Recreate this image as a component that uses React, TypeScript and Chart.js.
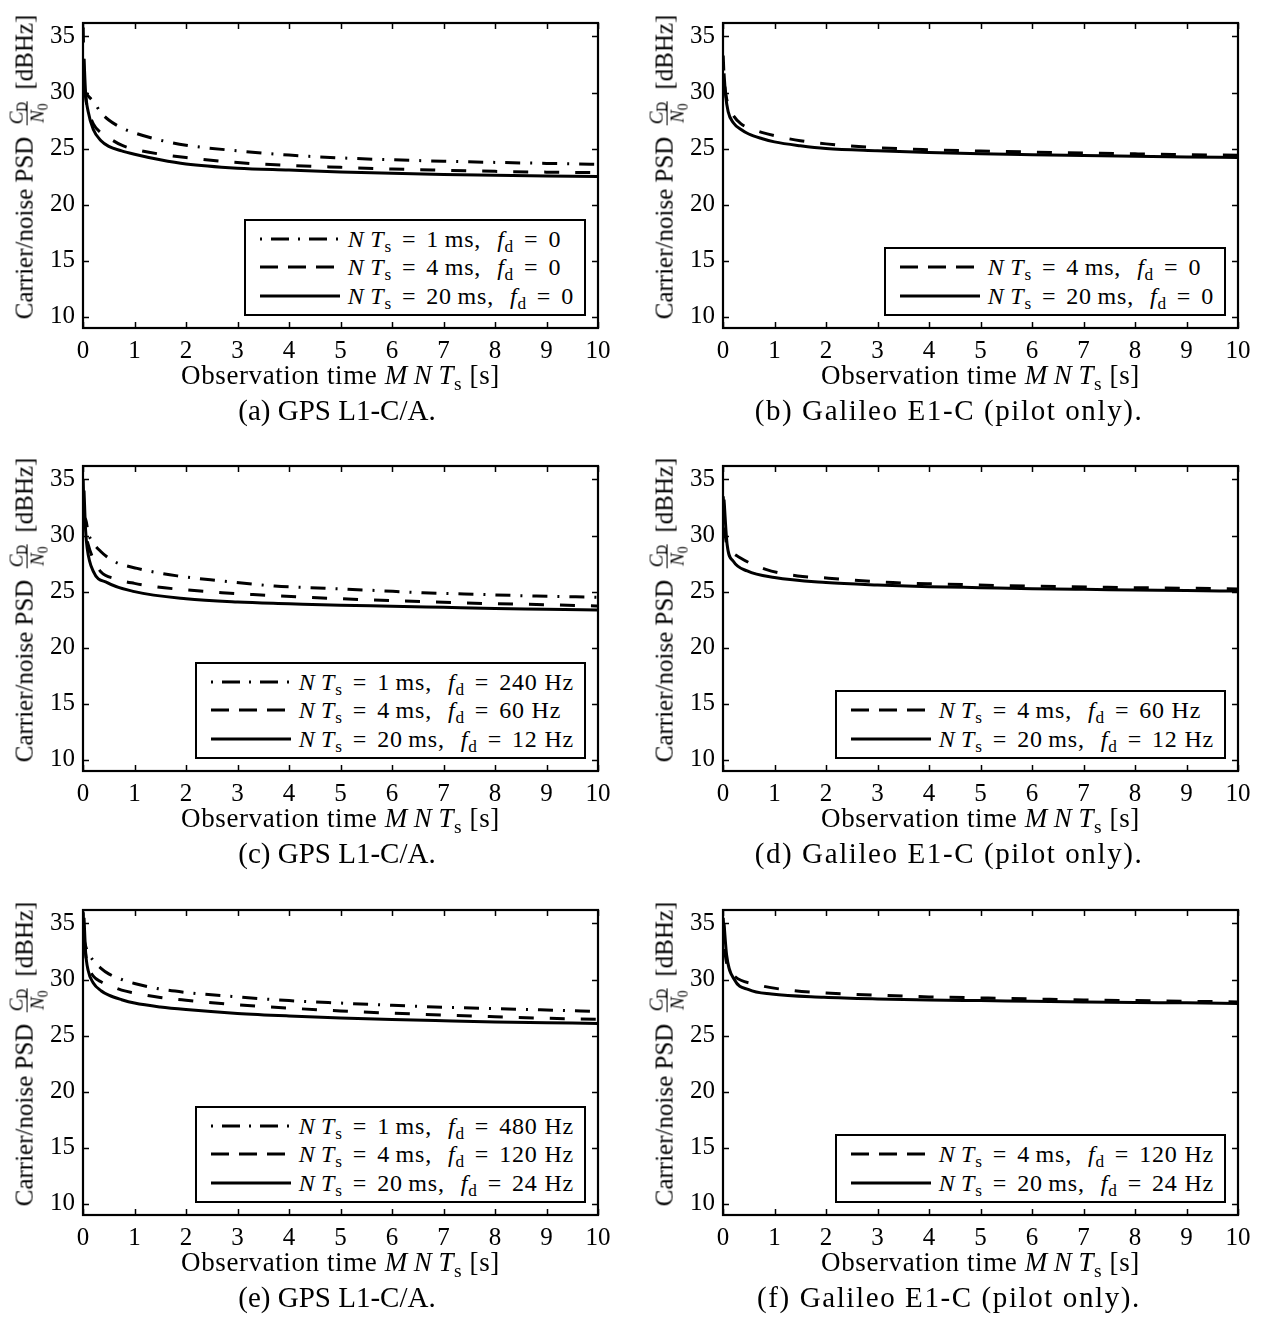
import React, { useEffect, useRef } from "react";
import { Chart, registerables } from "chart.js";

Chart.register(...registerables);

const FONT = "'Liberation Serif', 'DejaVu Serif', serif";

// Axis ticks / limits
const X_TICKS = [0, 1, 2, 3, 4, 5, 6, 7, 8, 9, 10];
const Y_TICKS = [10, 15, 20, 25, 30, 35];
const X_MIN = 0;
const X_MAX = 10;
const Y_MIN = 9;
const Y_MAX = 36.2;

// ---- (a) GPS L1-C/A, fd = 0 ----
const aX1 = [0.001, 0.05, 0.1, 0.2, 0.35, 0.5, 0.75, 1, 1.5, 2, 3, 4, 5, 6, 7, 8, 9, 10];
const aY1 = [30.5, 30.0, 29.7, 29.2, 28.2, 27.55, 26.85, 26.4, 25.75, 25.3, 24.8, 24.42, 24.17, 24.0, 23.87, 23.77, 23.68, 23.6];
const aX4 = [0.004, 0.02, 0.05, 0.1, 0.2, 0.35, 0.5, 0.75, 1, 1.5, 2, 3, 4, 5, 6, 7, 8, 9, 10];
const aY4 = [35.8, 31.5, 29.6, 28.5, 27.2, 26.4, 25.95, 25.3, 24.95, 24.5, 24.2, 23.75, 23.5, 23.33, 23.18, 23.07, 22.97, 22.9, 22.85];
const aX20 = [0.02, 0.05, 0.1, 0.2, 0.35, 0.5, 0.75, 1, 1.5, 2, 3, 4, 5, 6, 7, 8, 9, 10];
const aY20 = [33.0, 30.0, 28.3, 26.7, 25.7, 25.2, 24.8, 24.5, 24.0, 23.62, 23.25, 23.08, 22.92, 22.8, 22.7, 22.62, 22.56, 22.5];

// ---- (b) Galileo E1-C, fd = 0 ----
const bX4 = [0.004, 0.02, 0.05, 0.1, 0.2, 0.35, 0.5, 0.75, 1, 1.5, 2, 3, 4, 5, 6, 7, 8, 9, 10];
const bY4 = [33.3, 31.5, 30.0, 28.9, 27.95, 27.2, 26.85, 26.45, 26.15, 25.7, 25.42, 25.08, 24.9, 24.78, 24.69, 24.61, 24.53, 24.46, 24.4];
const bX20 = [0.02, 0.05, 0.1, 0.2, 0.35, 0.5, 0.75, 1, 1.5, 2, 3, 4, 5, 6, 7, 8, 9, 10];
const bY20 = [31.7, 29.8, 28.3, 27.3, 26.7, 26.3, 25.9, 25.6, 25.25, 25.0, 24.8, 24.65, 24.53, 24.45, 24.38, 24.31, 24.25, 24.2];

// ---- (c) GPS L1-C/A, moderate Doppler ----
const cX1 = [0.001, 0.05, 0.1, 0.14, 0.34, 0.6, 1.05, 1.83, 2.68, 3.72, 4.7, 5.67, 6.6, 7.75, 8.8, 10];
const cY1 = [31.0, 31.5, 30.2, 29.75, 28.6, 27.7, 27.07, 26.4, 25.96, 25.5, 25.3, 25.1, 24.9, 24.74, 24.6, 24.5];
const cX4 = [0.004, 0.02, 0.05, 0.1, 0.2, 0.34, 0.66, 1, 1.4, 2, 2.7, 3.3, 4.3, 5.5, 6.6, 8, 9, 10];
const cY4 = [35.0, 32.0, 30.3, 29.2, 27.9, 26.8, 26.1, 25.73, 25.44, 25.15, 24.9, 24.74, 24.5, 24.27, 24.1, 23.92, 23.83, 23.72];
const cX20 = [0.02, 0.05, 0.08, 0.2, 0.47, 1, 2, 3, 4, 5, 6, 7, 8, 9, 10];
const cY20 = [34.0, 30.5, 28.9, 26.8, 25.8, 25.0, 24.36, 24.07, 23.92, 23.78, 23.7, 23.6, 23.5, 23.43, 23.35];

// ---- (d) Galileo E1-C, moderate Doppler ----
const dX4 = [0.004, 0.05, 0.14, 0.34, 0.83, 1.45, 2.05, 2.7, 3.3, 4.3, 5.5, 6.6, 8, 9, 10];
const dY4 = [33.5, 29.8, 28.7, 28.0, 26.98, 26.4, 26.2, 25.96, 25.8, 25.67, 25.52, 25.44, 25.35, 25.3, 25.23];
const dX20 = [0.02, 0.08, 0.2, 0.47, 1, 2, 3, 4, 5, 6, 7, 8, 9, 10];
const dY20 = [33.2, 29.2, 27.7, 26.84, 26.25, 25.8, 25.58, 25.44, 25.35, 25.26, 25.2, 25.15, 25.09, 25.05];

// ---- (e) GPS L1-C/A, high Doppler ----
const eX1 = [0.001, 0.05, 0.1, 0.2, 0.35, 0.5, 0.75, 1, 1.5, 2, 3, 4, 5, 6, 7, 8, 9, 10];
const eY1 = [34.0, 33.0, 32.4, 31.7, 31.0, 30.5, 30.0, 29.65, 29.15, 28.85, 28.45, 28.12, 27.9, 27.7, 27.53, 27.4, 27.28, 27.15];
const eX4 = [0.004, 0.02, 0.05, 0.1, 0.2, 0.35, 0.5, 0.75, 1, 1.5, 2, 3, 4, 5, 6, 7, 8, 9, 10];
const eY4 = [36.0, 34.0, 32.3, 31.2, 30.3, 29.8, 29.5, 29.05, 28.8, 28.4, 28.15, 27.75, 27.45, 27.2, 27.0, 26.83, 26.68, 26.55, 26.45];
const eX20 = [0.02, 0.05, 0.1, 0.2, 0.35, 0.5, 0.75, 1, 1.5, 2, 3, 4, 5, 6, 7, 8, 9, 10];
const eY20 = [35.5, 32.5, 30.8, 29.7, 29.0, 28.6, 28.2, 27.9, 27.55, 27.32, 26.98, 26.75, 26.57, 26.43, 26.32, 26.22, 26.15, 26.08];

// ---- (f) Galileo E1-C, high Doppler ----
const fX4 = [0.004, 0.05, 0.22, 0.65, 1.38, 2, 3, 4, 5, 6, 7, 8, 9, 10];
const fY4 = [35.5, 32.0, 30.3, 29.55, 29.0, 28.8, 28.6, 28.45, 28.36, 28.27, 28.18, 28.12, 28.06, 28.0];
const fX20 = [0.02, 0.07, 0.22, 0.5, 0.94, 1.96, 3, 4, 5, 6, 7, 8, 9, 10];
const fY20 = [35.0, 32.2, 30.0, 29.1, 28.7, 28.42, 28.27, 28.18, 28.12, 28.06, 28.0, 27.95, 27.92, 27.86];

type Style = "dashdot" | "dashed" | "solid";
type Series = { xs: number[]; ys: number[]; style: Style; nts: string; fd: string };

const PLOT_DASH: Record<Style, number[]> = {
  dashdot: [15, 10, 2, 10],
  dashed: [15, 16],
  solid: [],
};
const LEGEND_DASH: Record<Style, string> = {
  dashdot: "2 9 18 9",
  dashed: "18 10",
  solid: "",
};

const PANELS: { id: string; caption: string; series: Series[] }[] = [
  {
    id: "a",
    caption: "(a) GPS L1-C/A.",
    series: [
      { xs: aX1, ys: aY1, style: "dashdot", nts: "1", fd: "0" },
      { xs: aX4, ys: aY4, style: "dashed", nts: "4", fd: "0" },
      { xs: aX20, ys: aY20, style: "solid", nts: "20", fd: "0" },
    ],
  },
  {
    id: "b",
    caption: "(b) Galileo E1-C (pilot only).",
    series: [
      { xs: bX4, ys: bY4, style: "dashed", nts: "4", fd: "0" },
      { xs: bX20, ys: bY20, style: "solid", nts: "20", fd: "0" },
    ],
  },
  {
    id: "c",
    caption: "(c) GPS L1-C/A.",
    series: [
      { xs: cX1, ys: cY1, style: "dashdot", nts: "1", fd: "240 Hz" },
      { xs: cX4, ys: cY4, style: "dashed", nts: "4", fd: "60 Hz" },
      { xs: cX20, ys: cY20, style: "solid", nts: "20", fd: "12 Hz" },
    ],
  },
  {
    id: "d",
    caption: "(d) Galileo E1-C (pilot only).",
    series: [
      { xs: dX4, ys: dY4, style: "dashed", nts: "4", fd: "60 Hz" },
      { xs: dX20, ys: dY20, style: "solid", nts: "20", fd: "12 Hz" },
    ],
  },
  {
    id: "e",
    caption: "(e) GPS L1-C/A.",
    series: [
      { xs: eX1, ys: eY1, style: "dashdot", nts: "1", fd: "480 Hz" },
      { xs: eX4, ys: eY4, style: "dashed", nts: "4", fd: "120 Hz" },
      { xs: eX20, ys: eY20, style: "solid", nts: "20", fd: "24 Hz" },
    ],
  },
  {
    id: "f",
    caption: "(f) Galileo E1-C (pilot only).",
    series: [
      { xs: fX4, ys: fY4, style: "dashed", nts: "4", fd: "120 Hz" },
      { xs: fX20, ys: fY20, style: "solid", nts: "20", fd: "24 Hz" },
    ],
  },
];

// Layout geometry (page pixels)
const COL_LEFT = [83, 723];
const ROW_TOP = [20, 463, 907];
const PLOT_W = 515;
const PLOT_H = 308;
const CAPTION_CX = [337, 949];
const Y_AXIS_W = 60;
const X_AXIS_H = 40;
const PAD_TOP = 20;
const PAD_RIGHT = 25;
const TICK_LEN = 6;

const framePlugin = {
  id: "frame",
  afterDatasetsDraw(chart: any) {
    const { ctx, chartArea, scales } = chart;
    const { left, right, top, bottom } = chartArea;
    const xs = scales.x;
    const ys = scales.y;
    ctx.save();
    ctx.strokeStyle = "#000";
    ctx.lineWidth = 1.5;
    ctx.beginPath();
    for (const v of X_TICKS) {
      const px = Math.round(xs.getPixelForValue(v)) + 0.5;
      ctx.moveTo(px, bottom);
      ctx.lineTo(px, bottom - TICK_LEN);
      ctx.moveTo(px, top);
      ctx.lineTo(px, top + TICK_LEN);
    }
    for (const v of Y_TICKS) {
      const py = Math.round(ys.getPixelForValue(v)) + 0.5;
      ctx.moveTo(left, py);
      ctx.lineTo(left + TICK_LEN, py);
      ctx.moveTo(right, py);
      ctx.lineTo(right - TICK_LEN, py);
    }
    ctx.stroke();
    ctx.lineWidth = 2.2;
    ctx.strokeRect(left, top, right - left, bottom - top);
    ctx.restore();
  },
};

const Sub = ({ children }: { children: React.ReactNode }) => (
  <span style={{ fontSize: "0.72em", position: "relative", top: "0.3em", lineHeight: 0 }}>{children}</span>
);

const Eq = () => <span style={{ margin: "0 10px" }}>=</span>;

function Panel({ idx }: { idx: number }) {
  const panel = PANELS[idx];
  const col = idx % 2;
  const row = Math.floor(idx / 2);
  const plotLeft = COL_LEFT[col];
  const plotTop = ROW_TOP[row];
  const ref = useRef<HTMLCanvasElement | null>(null);

  const cw = Y_AXIS_W + PLOT_W + PAD_RIGHT;
  const ch = PAD_TOP + PLOT_H + X_AXIS_H;

  useEffect(() => {
    if (!ref.current) return;
    const chart = new Chart(ref.current, {
      type: "line",
      data: {
        datasets: panel.series.map((s) => ({
          label: s.style,
          data: s.xs.map((x, i) => ({ x, y: s.ys[i] })),
          borderColor: "#000",
          backgroundColor: "#000",
          borderWidth: 3,
          borderDash: PLOT_DASH[s.style],
          pointRadius: 0,
          cubicInterpolationMode: "monotone",
          fill: false,
        })),
      },
      options: {
        animation: false,
        responsive: false,
        maintainAspectRatio: false,
        devicePixelRatio: 1,
        events: [],
        layout: { padding: { left: 0, top: PAD_TOP, right: PAD_RIGHT, bottom: 0 } },
        plugins: { legend: { display: false }, tooltip: { enabled: false } },
        scales: {
          x: {
            type: "linear",
            min: X_MIN,
            max: X_MAX,
            afterBuildTicks: (s: any) => {
              s.ticks = X_TICKS.map((v) => ({ value: v }));
            },
            afterFit: (s: any) => {
              s.height = X_AXIS_H;
            },
            grid: { display: false, drawTicks: false },
            border: { display: false },
            ticks: {
              autoSkip: false,
              maxRotation: 0,
              padding: 8,
              color: "#000",
              font: { family: FONT, size: 25 },
            },
          },
          y: {
            type: "linear",
            min: Y_MIN,
            max: Y_MAX,
            afterBuildTicks: (s: any) => {
              s.ticks = Y_TICKS.map((v) => ({ value: v }));
            },
            afterFit: (s: any) => {
              s.width = Y_AXIS_W;
            },
            grid: { display: false, drawTicks: false },
            border: { display: false },
            ticks: {
              autoSkip: false,
              padding: 8,
              color: "#000",
              font: { family: FONT, size: 25 },
            },
          },
        },
      },
      plugins: [framePlugin],
    } as any);
    return () => chart.destroy();
  }, [idx]);

  const fracStyle: React.CSSProperties = {
    display: "inline-flex",
    flexDirection: "column",
    alignItems: "center",
    verticalAlign: "middle",
    fontSize: 19,
    lineHeight: 1.05,
    margin: "0 5px",
  };

  return (
    <>
      <canvas
        ref={ref}
        width={cw}
        height={ch}
        style={{ position: "absolute", left: plotLeft - Y_AXIS_W, top: plotTop - PAD_TOP, width: cw, height: ch }}
      />
      {/* y-axis title */}
      <div
        style={{
          position: "absolute",
          left: plotLeft - 56,
          top: plotTop + 147,
          transform: "translate(-50%, -50%) rotate(-90deg)",
          whiteSpace: "nowrap",
          fontFamily: FONT,
          fontSize: 25,
          lineHeight: 1,
        }}
      >
        Carrier/noise PSD{" "}
        <span style={fracStyle}>
          <span style={{ borderBottom: "1.3px solid #000", padding: "0 1px" }}>
            <i>C</i>
            <Sub>D</Sub>
          </span>
          <span>
            <i>N</i>
            <Sub>0</Sub>
          </span>
        </span>{" "}
        [dBHz]
      </div>
      {/* x-axis title */}
      <div
        style={{
          position: "absolute",
          left: plotLeft - 50,
          width: PLOT_W + 100,
          top: plotTop + PLOT_H + 47,
          transform: "translateY(-50%)",
          textAlign: "center",
          whiteSpace: "nowrap",
          fontFamily: FONT,
          fontSize: 27,
          letterSpacing: 0.6,
          lineHeight: 1,
        }}
      >
        Observation time <i>M</i>&#8201;<i>N</i>&#8201;<i>T</i>
        <Sub>s</Sub> [s]
      </div>
      {/* caption */}
      <div
        style={{
          position: "absolute",
          left: CAPTION_CX[col] - 300,
          width: 600,
          top: plotTop + PLOT_H + 82,
          transform: "translateY(-50%)",
          textAlign: "center",
          whiteSpace: "nowrap",
          fontFamily: FONT,
          fontSize: 29,
          letterSpacing: col === 1 ? 1.6 : 0,
          lineHeight: 1,
        }}
      >
        {panel.caption}
      </div>
      {/* legend */}
      <div
        style={{
          position: "absolute",
          right: 1263 - (plotLeft + PLOT_W - 12),
          bottom: 1322 - (plotTop + PLOT_H - 12),
          border: "2px solid #000",
          background: "#fff",
          padding: "4px 10px 4px 14px",
          fontFamily: FONT,
          fontSize: 24,
          letterSpacing: 0.8,
          lineHeight: 1,
        }}
      >
        {panel.series.map((s, i) => (
          <div key={i} style={{ display: "flex", alignItems: "center", height: 28.5, whiteSpace: "nowrap" }}>
            <svg width={80} height={10} style={{ marginRight: 8, flex: "none" }}>
              <line
                x1={0}
                y1={5}
                x2={80}
                y2={5}
                stroke="#000"
                strokeWidth={3}
                strokeDasharray={LEGEND_DASH[s.style] || undefined}
              />
            </svg>
            <span>
              <i>N</i>&#8201;<i>T</i>
              <Sub>s</Sub>
              <Eq />
              {s.nts}&#8201;ms,<span style={{ marginLeft: 16 }} />
              <i>f</i>
              <Sub>d</Sub>
              <Eq />
              {s.fd}
            </span>
          </div>
        ))}
      </div>
    </>
  );
}

export default function App() {
  return (
    <div style={{ position: "absolute", left: 0, top: 0, width: 1263, height: 1322, background: "#fff", overflow: "hidden" }}>
      {PANELS.map((p, i) => (
        <Panel key={p.id} idx={i} />
      ))}
    </div>
  );
}
